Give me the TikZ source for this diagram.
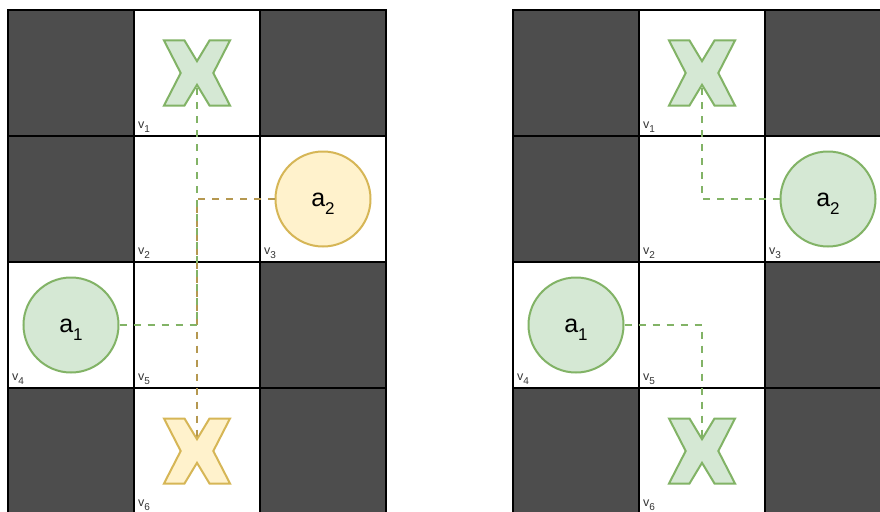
\documentclass[tikz,border=0pt]{standalone}
\usepackage{fontspec}
\setmainfont{Liberation Sans}
\definecolor{darkcell}{RGB}{77,77,77}
\definecolor{gfill}{HTML}{D5E8D4}
\definecolor{gline}{HTML}{82B366}
\definecolor{yfill}{HTML}{FFF2CC}
\definecolor{yline}{HTML}{D6B656}
\definecolor{ydash}{RGB}{181,152,80}
\definecolor{vtext}{HTML}{333333}
\newcommand\vsub[1]{v\raisebox{-3.5pt}{\fontsize{10}{11}\selectfont #1}}
\newcommand\asub[1]{a\raisebox{-8pt}{\fontsize{17}{18}\selectfont #1}}
\begin{document}
\begin{tikzpicture}[x=1pt,y=-1pt,
  cellw/.style={draw=black,line width=2pt,fill=white},
  celld/.style={draw=black,line width=2pt,fill=darkcell},
  agentg/.style={circle,draw=gline,fill=gfill,line width=2pt,minimum size=95pt,inner sep=0pt},
  agenty/.style={circle,draw=yline,fill=yfill,line width=2pt,minimum size=95pt,inner sep=0pt},
  goalg/.style={draw=gline,fill=gfill,line width=2pt},
  goaly/.style={draw=yline,fill=yfill,line width=2pt},
  vlab/.style={anchor=base west,inner sep=0pt,text=vtext,font=\fontsize{12.5}{14}\selectfont},
  alab/.style={anchor=base,inner sep=0pt,text=black,font=\fontsize{25}{30}\selectfont},
  gpath/.style={draw=gline,line width=2.2pt,dash pattern=on 7pt off 7pt},
  ypath/.style={draw=ydash,line width=2.2pt,dash pattern=on 7pt off 7pt},
  pics/xmark/.style={code={
    \path[pic actions] (-33,-32.5) -- (-12.5,-32.5) -- (0,-11.8) -- (12.5,-32.5) -- (33,-32.5)
      -- (16.3,0) -- (33,32.5) -- (12.5,32.5) -- (0,11.8) -- (-12.5,32.5) -- (-33,32.5)
      -- (-16.3,0) -- cycle;
  }}
]
\clip (0,0) rectangle (880,511);
\fill[white] (0,0) rectangle (880,511);
% ---------- left grid ----------
\foreach \c/\r in {0/0,2/0,0/1,2/2,0/3,2/3}
  \draw[celld] ({8+126*\c},{10+126*\r}) rectangle ++(126,126);
\foreach \c/\r in {1/0,1/1,2/1,0/2,1/2,1/3}
  \draw[cellw] ({8+126*\c},{10+126*\r}) rectangle ++(126,126);
% ---------- right grid ----------
\foreach \c/\r in {0/0,2/0,0/1,2/2,0/3,2/3}
  \draw[celld] ({513+126*\c},{10+126*\r}) rectangle ++(126,126);
\foreach \c/\r in {1/0,1/1,2/1,0/2,1/2,1/3}
  \draw[cellw] ({513+126*\c},{10+126*\r}) rectangle ++(126,126);
% ---------- vertex labels ----------
\node[vlab] (Lv1) at (138,128.5) {\vsub{1}};
\node[vlab] (Lv2) at (138,254.5) {\vsub{2}};
\node[vlab] (Lv3) at (264,254.5) {\vsub{3}};
\node[vlab] (Lv4) at (12,380.5) {\vsub{4}};
\node[vlab] (Lv5) at (138,380.5) {\vsub{5}};
\node[vlab] (Lv6) at (138,506.5) {\vsub{6}};
\node[vlab] (Rv1) at (643,128.5) {\vsub{1}};
\node[vlab] (Rv2) at (643,254.5) {\vsub{2}};
\node[vlab] (Rv3) at (769,254.5) {\vsub{3}};
\node[vlab] (Rv4) at (517,380.5) {\vsub{4}};
\node[vlab] (Rv5) at (643,380.5) {\vsub{5}};
\node[vlab] (Rv6) at (643,506.5) {\vsub{6}};
% ---------- agents ----------
\node[agenty] (La2) at (323,199) {};
\node[agentg] (La1) at (71,325) {};
\node[agentg] (Ra2) at (828,199) {};
\node[agentg] (Ra1) at (576,325) {};
% ---------- goals ----------
\coordinate (Lx1) at (197,73);
\coordinate (Lx6) at (197,451);
\coordinate (Rx1) at (702,73);
\coordinate (Rx6) at (702,451);
% ---------- paths ----------
\draw[ypath] (La2) -| (Lx6);
\draw[gpath] (La1) -| (Lx1);
\draw[gpath] (Ra2) -| (Rx1);
\draw[gpath] (Ra1) -| (Rx6);
% ---------- goal marks ----------
\pic[goalg] at (Lx1) {xmark};
\pic[goaly] at (Lx6) {xmark};
\pic[goalg] at (Rx1) {xmark};
\pic[goalg] at (Rx6) {xmark};
% ---------- agent labels ----------
\node[alab] (La2t) at ([yshift=-7.5pt]La2.center) {\asub{2}};
\node[alab] (La1t) at ([yshift=-7.5pt]La1.center) {\asub{1}};
\node[alab] (Ra2t) at ([yshift=-7.5pt]Ra2.center) {\asub{2}};
\node[alab] (Ra1t) at ([yshift=-7.5pt]Ra1.center) {\asub{1}};
\end{tikzpicture}
\end{document}
